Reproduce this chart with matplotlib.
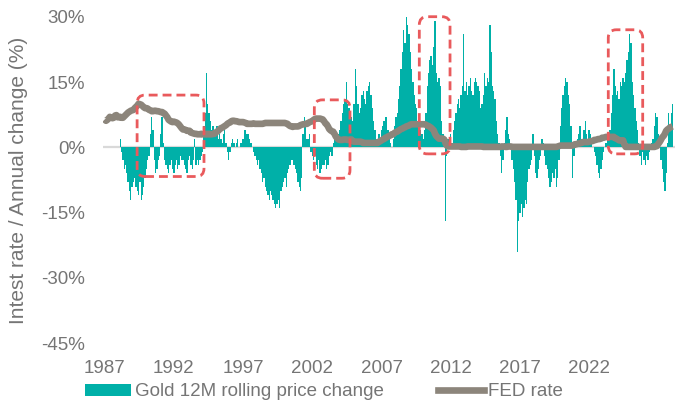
'''
gold 12M rolling price change vs FED rate
'''
import numpy as np
import pandas as pd
import matplotlib
matplotlib.use('Agg')
import matplotlib.pyplot as plt
import matplotlib.dates as mdates
from matplotlib.patches import FancyBboxPatch
from matplotlib.lines import Line2D
from matplotlib.patches import Patch

plt.rcParams['font.family'] = ['Liberation Sans', 'DejaVu Sans']

# monthly gold 12M change (%), Jan 1988 - Apr 2023
gold_1988_1995 = [
    2, -1, -3, -5, -4, -6, -8, -10, -12, -9, -8, -7,
    -9, -10, -11, -8, -12, -11, -9, -7, -5, -3, -2, 3,
    7, 4, -3, -6, -5, -3, -2, 3, 7, 1, -3, -4,
    -5, -6, -4, -3, -5, -6, -4, -3, -5, -4, -2, -3,
    -3, -4, -5, -6, -3, -2, -4, -5, -3, 2, -4, -3,
    -4, -3, -2, -1, 5, 8, 17, 10, 8, 6, 4, 5,
    4, 3, 5, 2, 3, 2, 1, 3, 4, 1, -1, -3,
    -1, 1, 2, 1, 0, 1, 2, 0, 1, 1, 2, 4,
]
gold_1996_2003 = [
    4, 3, 3, 2, 1, 0, -1, -2, -3, -4, -3, -5,
    -6, -8, -7, -9, -10, -11, -12, -10, -11, -12, -13, -14,
    -13, -12, -14, -10, -9, -8, -7, -9, -6, -5, -4, -3,
    -3, -4, -5, -6, -8, -9, -10, -7, 3, 7, 5, 2,
    2, 3, -1, -2, -3, -2, -4, -5, -3, -6, -5, -4,
    -4, -3, -5, -4, -2, -1, -2, 1, 2, 3, 2, 3,
    4, 6, 8, 10, 11, 15, 10, 9, 8, 7, 6, 10,
    18, 14, 10, 8, 9, 12, 13, 11, 10, 13, 14, 15,
]
gold_2004_2011 = [
    12, 9, 6, 4, 2, 1, 3, 2, 4, 5, 6, 7,
    7, 4, 2, 1, 0, 2, 5, 7, 8, 11, 14, 18,
    22, 27, 24, 30, 28, 26, 22, 18, 15, 12, 10, 9,
    6, 5, 4, 3, 2, 4, 8, 14, 17, 20, 21, 19,
    23, 29, 17, 15, 16, 14, 6, 3, 2, -17, -2, 2,
    2, 3, 1, 4, 6, 8, 10, 11, 9, 12, 14, 26,
    13, 15, 12, 14, 16, 13, 12, 15, 16, 15, 14, 13,
    9, 10, 12, 17, 14, 16, 15, 28, 22, 14, 13, 11,
]
gold_2012_2023 = [
    6, 3, 1, -2, -6, -3, 1, 4, 7, 3, 2, 0,
    -3, -5, -8, -12, -24, -17, -15, -13, -16, -14, -12, -13,
    -8, -5, -4, -3, 3, -2, -6, -7, -5, -3, -2, 2,
    1, -2, -4, -5, -7, -9, -8, -6, -7, -5, -9, -7,
    -3, 5, 9, 12, 14, 16, 15, 12, 10, 5, -7, -2,
    -2, 1, 2, 3, 5, 2, 1, 4, 6, 3, 2, 4,
    3, 1, 0, -1, -2, -4, -6, -7, -5, -3, -1, 0,
    1, 2, 3, 4, 8, 12, 18, 14, 12, 13, 11, 15,
    14, 16, 15, 17, 20, 22, 26, 24, 15, 12, 9, 6,
    4, 1, -2, -4, -1, -3, -4, -2, -3, -1, 0, 1,
    2, 5, 8, 7, 3, 0, -3, -5, -8, -10, -6, 1,
    8, 4, 8, 10,
]
gold_change = gold_1988_1995 + gold_1996_2003 + gold_2004_2011 + gold_2012_2023

# monthly FED funds rate (%), Jan 1987 - Apr 2023
fed_1987_1998 = [
    6.4, 6.1, 6.3, 6.6, 7.0, 6.8, 6.7, 6.8, 7.3, 7.4, 6.9, 6.9,
    7.0, 6.8, 6.8, 7.1, 7.4, 7.7, 8.0, 8.2, 8.4, 8.5, 8.6, 9.0,
    9.3, 9.6, 10.0, 9.9, 9.8, 9.5, 9.2, 9.0, 9.0, 8.9, 8.6, 8.5,
    8.3, 8.3, 8.4, 8.4, 8.3, 8.3, 8.2, 8.1, 8.1, 7.9, 7.7, 7.3,
    6.9, 6.3, 6.1, 5.9, 5.8, 5.9, 5.8, 5.7, 5.5, 5.2, 4.8, 4.4,
    4.1, 4.1, 4.0, 3.8, 3.8, 3.8, 3.4, 3.3, 3.2, 3.1, 3.1, 3.0,
    3.0, 3.0, 3.1, 3.0, 3.0, 3.0, 3.1, 3.0, 3.1, 3.0, 3.0, 3.1,
    3.1, 3.4, 3.6, 3.8, 4.1, 4.4, 4.5, 4.7, 4.9, 5.1, 5.4, 5.6,
    5.7, 6.0, 6.1, 6.1, 6.0, 6.0, 5.9, 5.8, 5.8, 5.8, 5.8, 5.7,
    5.6, 5.4, 5.4, 5.4, 5.4, 5.4, 5.5, 5.4, 5.4, 5.4, 5.4, 5.4,
    5.4, 5.4, 5.5, 5.6, 5.6, 5.6, 5.6, 5.6, 5.6, 5.6, 5.6, 5.6,
    5.6, 5.6, 5.6, 5.6, 5.6, 5.6, 5.6, 5.5, 5.4, 5.1, 4.9, 4.8,
]
fed_1999_2010 = [
    4.7, 4.8, 4.8, 4.8, 4.8, 4.9, 5.1, 5.2, 5.3, 5.3, 5.4, 5.4,
    5.6, 5.8, 5.9, 6.0, 6.3, 6.5, 6.6, 6.6, 6.6, 6.6, 6.5, 6.4,
    6.0, 5.5, 5.3, 4.8, 4.2, 3.9, 3.7, 3.6, 3.1, 2.5, 2.1, 1.8,
    1.7, 1.7, 1.7, 1.8, 1.8, 1.8, 1.7, 1.7, 1.8, 1.8, 1.4, 1.3,
    1.3, 1.3, 1.3, 1.3, 1.3, 1.2, 1.0, 1.0, 1.0, 1.0, 1.0, 1.0,
    1.0, 1.0, 1.0, 1.0, 1.0, 1.0, 1.3, 1.4, 1.6, 1.8, 1.9, 2.2,
    2.3, 2.5, 2.6, 2.8, 3.0, 3.0, 3.3, 3.5, 3.6, 3.8, 4.0, 4.2,
    4.3, 4.5, 4.6, 4.8, 4.9, 5.0, 5.2, 5.3, 5.3, 5.3, 5.3, 5.3,
    5.3, 5.3, 5.3, 5.3, 5.3, 5.3, 5.2, 5.0, 4.9, 4.7, 4.5, 4.2,
    3.9, 3.1, 2.6, 2.3, 2.0, 2.0, 2.0, 2.0, 1.8, 1.0, 0.4, 0.2,
    0.2, 0.2, 0.2, 0.2, 0.2, 0.2, 0.2, 0.2, 0.2, 0.1, 0.1, 0.1,
    0.1, 0.1, 0.2, 0.2, 0.2, 0.2, 0.2, 0.2, 0.2, 0.2, 0.2, 0.2,
]
fed_2011_2023 = [
    0.2, 0.2, 0.1, 0.1, 0.1, 0.1, 0.1, 0.1, 0.1, 0.1, 0.1, 0.1,
    0.1, 0.1, 0.1, 0.1, 0.2, 0.2, 0.2, 0.1, 0.1, 0.2, 0.2, 0.2,
    0.1, 0.1, 0.1, 0.1, 0.1, 0.1, 0.1, 0.1, 0.1, 0.1, 0.1, 0.1,
    0.1, 0.1, 0.1, 0.1, 0.1, 0.1, 0.1, 0.1, 0.1, 0.1, 0.1, 0.1,
    0.1, 0.1, 0.1, 0.1, 0.1, 0.1, 0.1, 0.1, 0.1, 0.1, 0.1, 0.2,
    0.3, 0.4, 0.4, 0.4, 0.4, 0.4, 0.4, 0.4, 0.4, 0.4, 0.4, 0.5,
    0.7, 0.7, 0.8, 0.9, 0.9, 1.0, 1.2, 1.2, 1.2, 1.2, 1.2, 1.3,
    1.4, 1.4, 1.5, 1.7, 1.7, 1.8, 1.9, 1.9, 2.0, 2.2, 2.2, 2.3,
    2.4, 2.4, 2.4, 2.4, 2.4, 2.4, 2.4, 2.1, 2.0, 1.8, 1.6, 1.6,
    1.6, 1.6, 0.7, 0.1, 0.1, 0.1, 0.1, 0.1, 0.1, 0.1, 0.1, 0.1,
    0.1, 0.1, 0.1, 0.1, 0.1, 0.1, 0.1, 0.1, 0.1, 0.1, 0.1, 0.1,
    0.1, 0.1, 0.2, 0.3, 0.8, 1.2, 1.7, 2.3, 2.6, 3.1, 3.8, 4.1,
    4.3, 4.6, 4.7, 4.8,
]
fed_rate = fed_1987_1998 + fed_1999_2010 + fed_2011_2023

# highlighted periods (start, end, low %, high %)
highlights = [
    ('1989-02-10', '1993-05-19', -6.7, 12.0),
    ('2000-06-03', '2002-09-12', -7.1, 10.9),
    ('2007-02-14', '2009-01-30', -1.5, 30.0),
    ('2019-03-08', '2021-05-18', -1.5, 27.0),
]
# category-style axis: one label every 53 months, as in the original
year_ticks = ['1987', '1992', '1997', '2002', '2007', '2012', '2017', '2022']
label_every = 53

teal = '#00B0A8'
fed_col = '#8C857B'
red = '#E95A5C'
txt = '#757575'

gold_dates = pd.date_range('1988-01-01', periods=len(gold_change), freq='MS')
fed_dates = pd.date_range('1987-01-01', periods=len(fed_rate), freq='MS')

fig = plt.figure(figsize=(6.77, 4.07), dpi=100)
ax = fig.add_axes([103 / 677, 1 - 343.3 / 407, 572 / 677, 326.6 / 407])

ax.axhline(0, color='#D9D9D9', lw=1.6, zorder=1)
ax.bar(gold_dates, gold_change, width=31, align='edge', color=teal,
       linewidth=0, zorder=2, label='Gold 12M rolling price change')
ax.plot(fed_dates + pd.Timedelta(days=15), fed_rate, color=fed_col, lw=4.8,
        solid_joinstyle='round', solid_capstyle='butt', zorder=3, label='FED rate')

# red dashed rounded boxes
round_days = 186
for start, end, low, high in highlights:
    x0 = mdates.date2num(pd.Timestamp(start))
    x1 = mdates.date2num(pd.Timestamp(end))
    box = FancyBboxPatch((x0, low), x1 - x0, high - low,
                         boxstyle=f'round,pad=0,rounding_size={round_days}',
                         mutation_aspect=1.84 / round_days,
                         fill=False, edgecolor=red, lw=2.0,
                         linestyle=(0, (3.2, 1.8)), zorder=4, clip_on=False)
    ax.add_patch(box)

ax.set_xlim(mdates.date2num(pd.Timestamp('1986-12-08')),
            mdates.date2num(pd.Timestamp('2023-06-10')))
ax.set_ylim(-45, 30)
ax.set_yticks(np.arange(-45, 31, 15))
ax.set_yticklabels([f'{v}%' for v in range(-45, 31, 15)])
tick_dates = fed_dates[::label_every][:len(year_ticks)] + pd.Timedelta(days=15)
ax.set_xticks(mdates.date2num(tick_dates))
ax.set_xticklabels(year_ticks)
ax.tick_params(axis='both', length=0, labelsize=13.5, labelcolor=txt)
ax.tick_params(axis='y', pad=13)
ax.tick_params(axis='x', pad=12)
for s in ax.spines.values():
    s.set_visible(False)

fig.text(18.5 / 677, 1 - 180 / 407, 'Intest rate / Annual change (%)',
         rotation=90, ha='center', va='center', fontsize=15, color=txt)

handles = [Patch(facecolor=teal, edgecolor='none'),
           Line2D([0], [0], color=fed_col, lw=4.8)]
fig.legend(handles, ['Gold 12M rolling price change', 'FED rate'],
           loc='center left', bbox_to_anchor=(85 / 677, 1 - 392 / 407),
           ncol=2, frameon=False, fontsize=13.5, labelcolor=txt,
           borderpad=0, borderaxespad=0, handlelength=2.45, handleheight=0.6,
           handletextpad=0.22, columnspacing=2.9)

fig.savefig('out.png', dpi=100)
